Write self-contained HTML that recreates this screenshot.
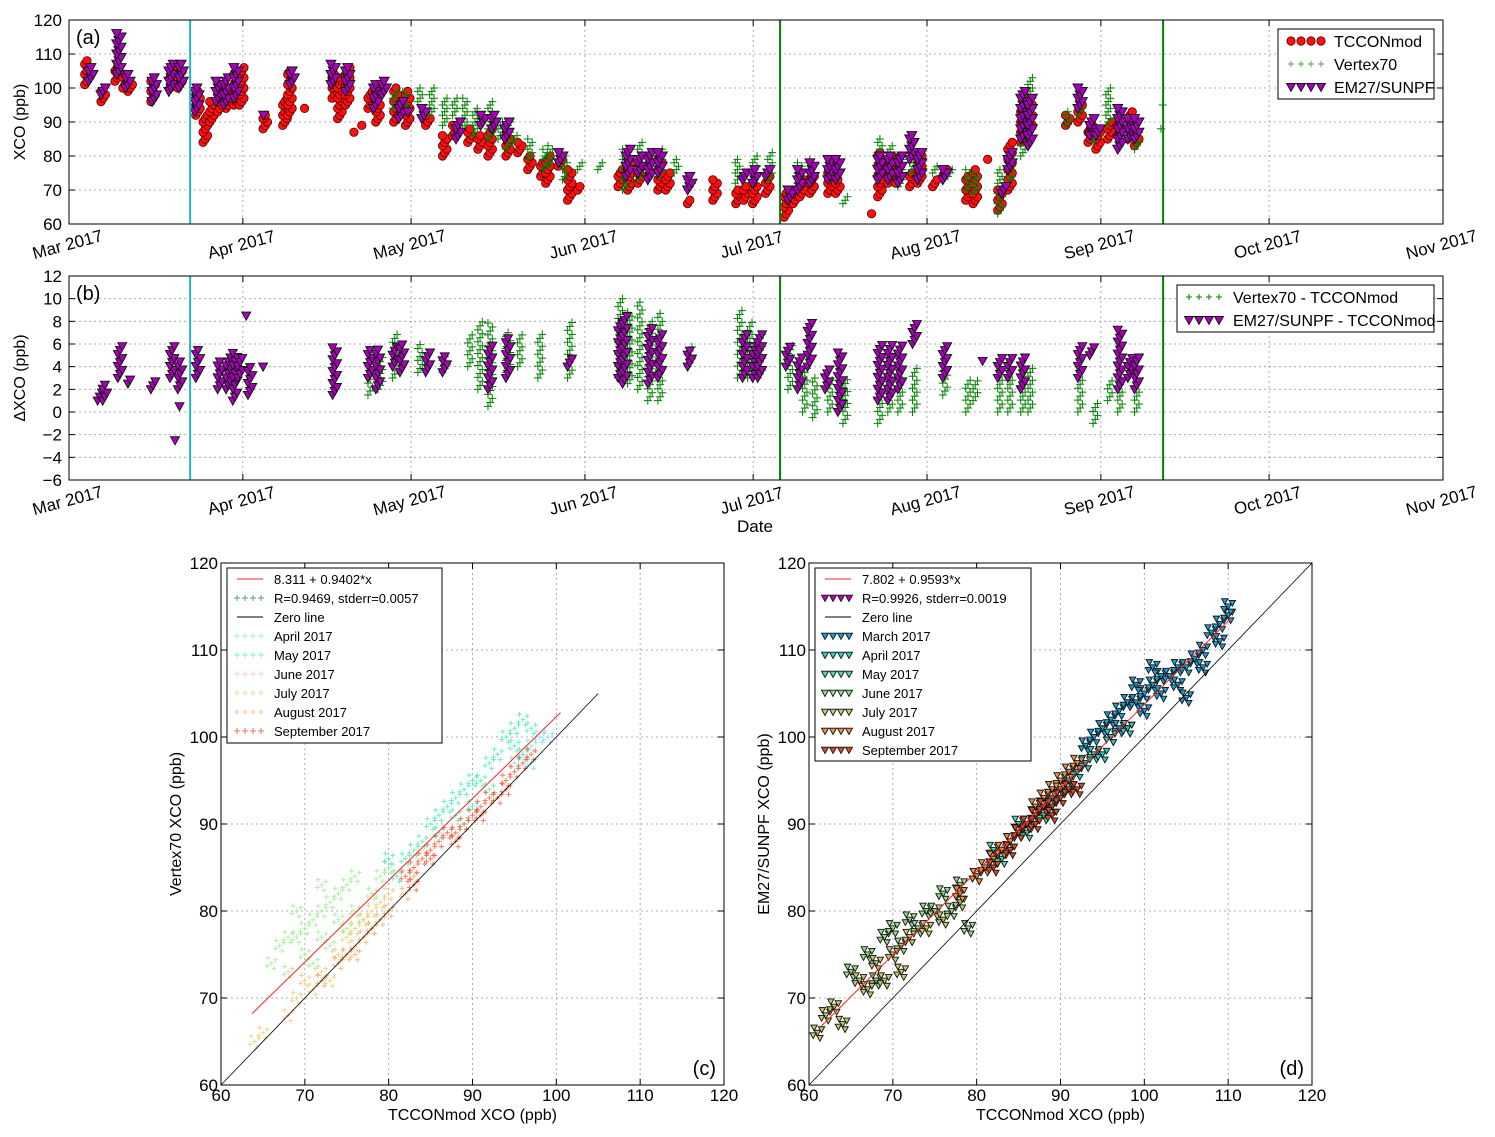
<!DOCTYPE html>
<html><head><meta charset="utf-8"><style>
body{margin:0;background:#fff}
svg{display:block;font-family:"Liberation Sans","DejaVu Sans",sans-serif}
</style></head><body>
<svg id="chart" width="1495" height="1137" viewBox="0 0 1495 1137" xmlns="http://www.w3.org/2000/svg"></svg>
<script>
// ---------- DATA ----------
const monthDays=[0,31,61,92,122,153,184,214,245];
const monthLabels=["Mar 2017","Apr 2017","May 2017","Jun 2017","Jul 2017","Aug 2017","Sep 2017","Oct 2017","Nov 2017"];
const cyanLineDays=[21.6];
const greenLineDays=[126.8,195.1];
const ticksA=[60,70,80,90,100,110,120];
const ticksB=[-6,-4,-2,0,2,4,6,8,10,12];
const ticksC=[60,70,80,90,100,110,120];
// panel a: clusters (day since Mar 1, low, high)
const tcconDay=[3.2,6.1,8.6,10.0,10.9,15.0,18.4,19.8,23.0,24.3,25.5,26.9,28.4,29.8,30.8,35.0,38.5,39.4,42.4,47.3,48.3,49.7,51.2,52.6,53.7,55.1,58.3,60.4,64.0,67.0,68.8,71.5,73.3,75.1,78.3,80.4,82.2,84.5,85.4,87.6,89.3,91.1,98.3,100.0,101.8,105.4,106.8,110.7,115.2,119.3,120.7,122.3,124.6,127.9,129.5,130.7,132.5,135.7,137.1,143.5,144.6,146.4,147.8,150.3,151.7,154.4,156.2,160.3,161.6,164.2,166.0,167.8,170.1,171.4,178.1,180.3,182.1,183.5,185.6,187.4,189.2,190.4];
const tcconLo=[101,96,102,100,99,96,100,100,92,84,90,93,94,95,95,88,89,92,94,97,91,95,87,89,94,90,90,89,89,80,86,84,82,80,80,81,76,74,72,77,67,70,71,70,72,70,70,66,67,66,67,66,69,62,66,68,69,69,69,63,68,72,72,71,72,71,74,67,66,79,64,70,84,87,89,90,84,82,85,86,85,83];
const tcconHi=[108,99,106,104,101,102,105,106,99,92,96,101,100,104,106,92,97,105,94,104,103,106,87,89,99,101,100,99,92,86,89,88,86,88,86,84,80,78,80,79,76,71,76,78,77,80,75,67,73,70,71,72,74,69,70,74,74,75,73,63,81,80,80,75,80,73,76,74,76,79,70,84,93,97,92,95,89,87,90,90,93,87];
const vertexDay=[58.1,59.9,62.6,64.7,67.0,68.8,70.6,72.4,75.1,76.9,78.3,79.5,82.2,84.9,85.8,88.4,91.1,94.7,99.1,101.8,105.4,108.3,110.7,119.2,122.3,125.0,130.3,132.1,135.7,138.4,144.6,146.4,148.2,150.3,151.7,154.4,157.1,160.3,161.6,166.0,167.8,170.1,171.4,178.1,180.3,183.0,185.3,187.4,190.4,195.1,195.4];
const vertexLo=[94,93,96,92,89,92,88,86,85,85,82,84,79,76,77,73,76,76,70,73,74,75,70,72,72,73,72,75,73,66,75,75,71,75,74,75,74,70,69,63,72,80,86,89,92,84,89,83,82,88,95];
const vertexHi=[99,99,100,100,97,97,97,94,96,90,90,86,85,82,83,80,78,78,82,84,82,79,73,79,80,81,78,79,78,68,85,83,80,82,80,77,76,76,75,76,80,93,103,93,97,87,100,92,88,88,95];
const em27Day=[3.9,6.1,8.9,10.5,15.2,18.2,20.0,22.8,26.6,28.0,29.8,35.1,39.8,47.1,49.7,54.7,56.2,59.2,60.8,63.3,69.4,73.8,75.8,78.1,87.7,99.7,101.8,103.6,105.4,110.7,120.5,122.3,124.6,128.6,130.3,132.5,135.7,137.1,144.6,146.4,148.2,150.3,151.7,156.2,166.7,167.8,170.1,171.4,180.3,182.4,183.5,187.4,189.2,190.4];
const em27Lo=[102,98,104,100,96,99,100,93,96,95,97,92,101,101,99,94,98,91,93,91,85,89,88,85,78,74,75,73,75,70,73,72,74,67,70,72,73,73,73,73,72,79,73,73,69,76,85,83,94,86,86,82,85,85];
const em27Hi=[106,100,116,104,103,107,107,100,102,103,106,92,105,107,106,101,102,96,93,94,90,92,92,90,81,82,80,81,81,74,75,76,76,70,76,78,79,79,80,80,80,86,81,76,71,81,99,97,100,91,88,94,91,91];
// panel b
const dEm27Day=[5.5,6.4,9.1,10.9,15.0,18.4,19.8,19.3,20.1,23.0,26.9,28.4,29.6,30.5,32.3,32.0,35.0,47.4,53.7,55.1,58.1,59.4,64.0,67.0,75.1,78.3,89.3,98.3,99.1,103.6,105.4,110.7,120.5,122.3,123.2,128.2,130.3,132.1,135.2,137.5,144.6,146.4,148.2,150.8,156.2,163.3,166.0,167.8,170.1,180.3,182.4,187.4,189.2,190.4];
const dEm27Lo=[1,1,3,2.5,2,3,2,-2.5,0.5,3,2,2,1,3,1.5,8.5,4,1.5,3,2,4,3.5,3.5,3.5,2,3,4,3,2.5,2.5,3,4,3,3,3,4,2,4,2,0,1,1,2,6,3,4.5,3,3,2,3,5,2,3,2];
const dEm27Hi=[2,2.5,6,3,3,6,4.5,-2.5,0.5,5.5,4.5,5,5.5,5,4,8.5,4,6,5.5,5.5,6,6,5.5,5,6,6.5,5,8,8.5,7.5,7,5.5,7,6,7,6,5,8,4,5.5,6,6,6,8,6,4.5,5,5,5,6,6,7.5,5,5];
const dVertexDay=[53.7,55.5,58.1,62.6,67.0,71.5,73.3,75.1,78.3,80.4,84.0,89.3,98.3,100.0,101.8,103.6,105.4,110.7,119.6,121.4,123.2,128.6,131.2,133.0,135.7,138.4,144.6,146.4,148.2,150.8,156.2,160.3,161.6,166.0,167.8,170.1,171.4,180.3,183.0,185.6,187.4,190.4];
const dVertexLo=[1.5,2,3,3.5,3.5,4,2,0.5,3.5,4,3,3,3,2.5,2,1,1,4,3,3,3,2,0,-0.5,0,-1,-1,0,0,0,1.5,0,1,0,0,0,0,0,-1,1,0,0];
const dVertexHi=[3,5,7,6,5,7,8,8,7,7,7,8,10,9,10,8,9,6,9,8,7,6,4,3,3,3,3,5,4,4,4,3,3,3,3,3,4,3,1,3,3,2];
// panel c (TCCONmod x, Vertex70 y) by month
const cAprX=[95,96,97,98,99,97], cAprY=[97,98,99,100,100,97];
const cMayX=[84,85,86,87,88,89,90,91,92,93,94,95,96,97,95,90,88,86,83,82,89,92,96,80,81];
const cMayY=[88,90,91,92,93,94,95,95,97,98,100,101,102,101,99,92,91,89,87,86,90,94,98,86,84];
const cJunX=[66,67,68,69,70,71,72,73,74,75,76,70,72,74,76,78,79,80,68,71,73,75,77,69,72];
const cJunY=[74,76,77,77,78,79,80,81,82,83,84,75,77,79,80,82,84,85,73,74,76,78,79,80,83];
const cJulX=[64,65,68,70,72,74,75,76,77,78,79,80,73,76,78,71,69];
const cJulY=[65,66,68,72,73,75,77,78,79,80,81,82,72,76,78,71,70];
const cAugX=[72,74,75,77,78,80,82,83,76,79];
const cAugY=[72,74,75,77,78,80,82,84,75,79];
const cSepX=[82,83,84,85,86,87,88,89,90,91,92,93,94,95,96,97,85,88,91,94,83];
const cSepY=[84,85,86,87,88,89,89,90,91,92,93,93,95,96,97,98,86,88,91,94,83];
const cFit=[8.311,0.9402], cFitRange=[63.7,100.5], cZeroRange=[60,105];
// panel d (TCCONmod x, EM27 y)
const dMarX=[93,94,95,96,97,98,99,100,101,102,103,104,105,106,107,108,109,110,110,109,100,98,96,102,104,105,107,99,101,97];
const dMarY=[99,100,101,102,103,104,104,105,106,107,107,108,108,109,110,112,113,114,115,111,103,101,100,105,106,104.5,108,106,108,101];
const dAprX=[86,88,90,92,94,96,98,93,91,89,87,95];
const dAprY=[90,92,94,96,98,100,101,97,95,93,91,98];
const dMayX=[82,84,86,88,85,83], dMayY=[87,88,89,91,90,86];
const dJunX=[65,67,69,70,72,74,76,78,80,71,73,75,77,79,68];
const dJunY=[73,75,77,78,79,80,82,83,84,76,78,80,80,78,72];
const dJulX=[61,62,63,64,66,68,70,72,74,76,78,69,71,67];
const dJulY=[66,68,69,67,72,74,75,77,78,79,81,72,73,71];
const dAugX=[78,80,82,84,86,88,90,87,85,83,81,89,91,92];
const dAugY=[82,84,86,88,90,93,95,92,89,87,85,94,96,97];
const dSepX=[82,84,85,86,87,88,89,90,91,92,87,89];
const dSepY=[85,87,89,90,91,92,92,93,94,94,90,91];
const dFit=[7.802,0.9593], dFitRange=[61.5,110.5], dZeroRange=[60,120];

// ---------- SCALES ----------
const xa=d=>69+d*5.608;
const ya=v=>224-(v-60)*3.4;
const yb=v=>276+(12-v)*11.333;
const xc=v=>221+(v-60)*8.383;
const yc=v=>1085-(v-60)*8.7;
const xd=v=>809+(v-60)*8.383;

const svg=document.getElementById('chart');
const NS='http://www.w3.org/2000/svg';
function mk(tag,attrs,parent){const e=document.createElementNS(NS,tag);for(const k in attrs)e.setAttribute(k,attrs[k]);(parent||svg).appendChild(e);return e;}
function txt(x,y,s,size,anchor,parent,rot){const t=mk('text',{x:x,y:y,'font-size':size,'text-anchor':anchor||'middle',fill:'#000'},parent);if(rot)t.setAttribute('transform','rotate('+rot+' '+x+' '+y+')');t.textContent=s;return t;}
function circ(g,x,y){mk('circle',{cx:x,cy:y,r:4.2,fill:'#ff1010',stroke:'#500','stroke-width':0.8},g);}
function tri(g,x,y,s,fill){s=s||5;mk('polygon',{points:(x-s)+','+(y-s*0.8)+' '+(x+s)+','+(y-s*0.8)+' '+x+','+(y+s),fill:fill||'#a800b8',stroke:'#111','stroke-width':0.9},g);}
function plus(g,x,y,s,col,op){mk('path',{d:'M'+(x-s)+' '+y+'h'+(2*s)+'M'+x+' '+(y-s)+'v'+(2*s),stroke:col,'stroke-width':1,opacity:op||1,fill:'none'},g);}

function frame(x0,y0,x1,y1,name){const r=mk('rect',{x:x0,y:y0,width:x1-x0,height:y1-y0,fill:'none',stroke:'#000','stroke-width':1});}
function grid(g,x0,y0,x1,y1,vx,hy){vx.forEach(x=>mk('line',{x1:x,y1:y0,x2:x,y2:y1,stroke:'#999','stroke-dasharray':'2,3','stroke-width':0.8},g));hy.forEach(y=>mk('line',{x1:x0,y1:y,x2:x1,y2:y,stroke:'#999','stroke-dasharray':'2,3','stroke-width':0.8},g));}
function ticks(g,x0,y0,x1,y1,vx,hy){vx.forEach(x=>{mk('line',{x1:x,y1:y1,x2:x,y2:y1-6,stroke:'#000'},g);mk('line',{x1:x,y1:y0,x2:x,y2:y0+6,stroke:'#000'},g);});hy.forEach(y=>{mk('line',{x1:x0,y1:y,x2:x0+6,y2:y,stroke:'#000'},g);mk('line',{x1:x1,y1:y,x2:x1-6,y2:y,stroke:'#000'},g);});}

// ---------- PANEL A & B ----------
function timePanel(pid,y0,y1,yS,tk,labelY,yTitle,cls){
  const g=mk('g',{});
  
  
  const vx=monthDays.map(xa), hy=tk.map(yS);
  grid(g,69,y0,1443,y1,vx,hy);
  ticks(g,69,y0,1443,y1,vx,hy);
  tk.forEach(v=>{const t=txt(62,yS(v)+6,String(v).replace('-','\u2212'),17,'end',g);});
  monthDays.forEach((d,i)=>{const t=txt(xa(d),labelY,monthLabels[i],17,'middle',g,-15);});
  const yt=txt(25,(y0+y1)/2,yTitle,16,'middle',g,-90);
  
  
  cls.forEach(c=>{
    const sg=mk('g',{},g);
    
    
    c.day.forEach((d,i)=>{let k=0;for(let v=c.lo[i];v<=c.hi[i]+1e-6;v+=c.step){const x=xa(d)+((k%3)-1)*2.2;c.draw(sg,x,yS(v));k++;}});
  });
  cyanLineDays.forEach(d=>{const l=mk('line',{x1:xa(d),y1:y0,x2:xa(d),y2:y1,stroke:'#20b8c0','stroke-width':2},g);});
  greenLineDays.forEach(d=>{const l=mk('line',{x1:xa(d),y1:y0,x2:xa(d),y2:y1,stroke:'#008000','stroke-width':2},g);});
}
timePanel('panel-a',20,224,ya,ticksA,250,'XCO (ppb)',[
 {name:'tccon-series',day:tcconDay,lo:tcconLo,hi:tcconHi,step:1.0,draw:circ},
 {name:'vertex70-series',day:vertexDay,lo:vertexLo,hi:vertexHi,step:1.0,draw:(g,x,y)=>plus(g,x,y,4,'#008000')},
 {name:'em27-series',day:em27Day,lo:em27Lo,hi:em27Hi,step:1.0,draw:(g,x,y)=>tri(g,x,y,5)}]);
frame(69,20,1443,224,'panel-a-frame');
txt(76,44,'(a)',20,'start');
timePanel('panel-b',276,480,yb,ticksB,506,'\u0394XCO (ppb)',[
 {name:'vertex70-diff-series',day:dVertexDay,lo:dVertexLo,hi:dVertexHi,step:0.35,draw:(g,x,y)=>plus(g,x,y,4,'#008000')},
 {name:'em27-diff-series',day:dEm27Day,lo:dEm27Lo,hi:dEm27Hi,step:0.35,draw:(g,x,y)=>tri(g,x,y,4.5)}]);
frame(69,276,1443,480,'panel-b-frame');
txt(76,300,'(b)',20,'start');
const dt=txt(755,532,'Date',17);



// legends a,b
function legBox(x0,y0,x1,y1,name){const g=mk('g',{});mk('rect',{x:x0,y:y0,width:x1-x0,height:y1-y0,fill:'#fff',stroke:'#000'},g);return g;}
let lg=legBox(1278,29,1434,99,'legend-a');
[[41,'TCCONmod',circ],[64,'Vertex70',(g,x,y)=>plus(g,x,y,3,'#008000',0.7)],[87,'EM27/SUNPF',(g,x,y)=>tri(g,x,y,4.5)]].forEach(r=>{for(let i=0;i<4;i++)r[2](lg,1291+i*10,r[0]);const t=txt(1334,r[0]+6,r[1],16,'start',lg);});
lg=legBox(1177,285,1434,332,'legend-b');
[[297,'Vertex70 - TCCONmod',(g,x,y)=>plus(g,x,y,3,'#008000')],[320,'EM27/SUNPF - TCCONmod',(g,x,y)=>tri(g,x,y,4.5)]].forEach(r=>{for(let i=0;i<4;i++)r[2](lg,1189+i*10,r[0]);const t=txt(1233,r[0]+6,r[1],16,'start',lg);});

// ---------- PANEL C & D ----------
const densify=[[0,0],[0.5,0.4],[-0.5,-0.3],[0.3,-0.6],[-0.4,0.6]];
function scatterPanel(pid,xS,x0,x1,groups,fit,fitR,zeroR,yTitle,tag,legendRows,legX1,legY1){
  const g=mk('g',{});
  
  
  const vx=ticksC.map(xS), hy=ticksC.map(yc);
  grid(g,x0,563,x1,1085,vx,hy);
  ticks(g,x0,563,x1,1085,vx,hy);
  ticksC.forEach(v=>{let t=txt(xS(v),1101,String(v),17,'middle',g);t=txt(x0-3,yc(v)+6,String(v),17,'end',g);});
  let t=txt((x0+x1)/2,1120,'TCCONmod XCO (ppb)',16,'middle',g);
  
  t=txt(x0-40,824,yTitle,16,'middle',g,-90);
  
  groups.forEach(gr=>{const sg=mk('g',{},g);
    gr.x.forEach((xv,i)=>densify.forEach(o=>gr.draw(sg,xS(xv+o[0]),yc(gr.y[i]+o[1]))));});
  const z=mk('line',{x1:xS(zeroR[0]),y1:yc(zeroR[0]),x2:xS(zeroR[1]),y2:yc(zeroR[1]),stroke:'#000','stroke-width':0.8},g);
  
  const f=mk('line',{x1:xS(fitR[0]),y1:yc(fit[0]+fit[1]*fitR[0]),x2:xS(fitR[1]),y2:yc(fit[0]+fit[1]*fitR[1]),stroke:'#ff2020','stroke-width':1},g);
  
  const lab=txt(x1-8,1075,tag,20,'end',g);
  
  const L=legBox(x0+6,568,legX1,legY1,pid+'-legend');
  legendRows.forEach((r,i)=>{const y=579+i*19;r.draw(L,x0+16,y);const tt=txt(x0+53,y+5,r.label,13,'start',L);});
  mk('rect',{x:x0,y:563,width:x1-x0,height:522,fill:'none',stroke:'#000'},g);
}
const pc=(col)=>(g,x,y)=>plus(g,x,y,2.5,col,0.75);
const cCols={apr:'#6fe0e8',may:'#40e8b0',jun:'#9ce890',jul:'#e8c870',aug:'#f4a060',sep:'#f05028'};
const legPlus=(col,op)=>(g,x,y)=>{for(let i=0;i<4;i++)plus(g,x+i*8,y,3,col,op);};
const legLine=(col)=>(g,x,y)=>mk('line',{x1:x,y1:y,x2:x+26,y2:y,stroke:col,'stroke-width':1},g);
scatterPanel('panel-c',xc,221,724,[
 {name:'vertex-jun',x:cJunX,y:cJunY,draw:pc(cCols.jun)},
 {name:'vertex-jul',x:cJulX,y:cJulY,draw:pc(cCols.jul)},
 {name:'vertex-aug',x:cAugX,y:cAugY,draw:pc(cCols.aug)},
 {name:'vertex-may',x:cMayX,y:cMayY,draw:pc(cCols.may)},
 {name:'vertex-apr',x:cAprX,y:cAprY,draw:pc(cCols.apr)},
 {name:'vertex-sep',x:cSepX,y:cSepY,draw:pc(cCols.sep)}],
 cFit,cFitRange,cZeroRange,'Vertex70 XCO (ppb)','(c)',[
 {label:cFit[0]+' + '+cFit[1]+'*x',draw:legLine('#ff2020')},
 {label:'R=0.9469, stderr=0.0057',draw:legPlus('#2a8a6a',0.8)},
 {label:'Zero line',draw:legLine('#000')},
 {label:'April 2017',draw:legPlus(cCols.apr,0.6)},
 {label:'May 2017',draw:legPlus(cCols.may,0.6)},
 {label:'June 2017',draw:legPlus('#f0b0b0',0.6)},
 {label:'July 2017',draw:legPlus(cCols.jul,0.6)},
 {label:'August 2017',draw:legPlus(cCols.aug,0.6)},
 {label:'September 2017',draw:legPlus(cCols.sep,0.8)}],442,743);
const dCols={mar:'#1aa0d8',apr:'#28d0c8',may:'#50d8a8',jun:'#90dc88',jul:'#c8c86c',aug:'#f09040',sep:'#e04a28'};
const pt=(col)=>(g,x,y)=>tri(g,x,y,3.2,col);
const legTri=(col)=>(g,x,y)=>{for(let i=0;i<4;i++)tri(g,x+i*8,y,3.5,col);};
scatterPanel('panel-d',xd,809,1312,[
 {name:'em27-mar',x:dMarX,y:dMarY,draw:pt(dCols.mar)},
 {name:'em27-apr',x:dAprX,y:dAprY,draw:pt(dCols.apr)},
 {name:'em27-may',x:dMayX,y:dMayY,draw:pt(dCols.may)},
 {name:'em27-jun',x:dJunX,y:dJunY,draw:pt(dCols.jun)},
 {name:'em27-jul',x:dJulX,y:dJulY,draw:pt(dCols.jul)},
 {name:'em27-aug',x:dAugX,y:dAugY,draw:pt(dCols.aug)},
 {name:'em27-sep',x:dSepX,y:dSepY,draw:pt(dCols.sep)}],
 dFit,dFitRange,dZeroRange,'EM27/SUNPF XCO (ppb)','(d)',[
 {label:dFit[0]+' + '+dFit[1]+'*x',draw:legLine('#ff2020')},
 {label:'R=0.9926, stderr=0.0019',draw:legTri('#c000c8')},
 {label:'Zero line',draw:legLine('#000')},
 {label:'March 2017',draw:legTri(dCols.mar)},
 {label:'April 2017',draw:legTri(dCols.apr)},
 {label:'May 2017',draw:legTri(dCols.may)},
 {label:'June 2017',draw:legTri(dCols.jun)},
 {label:'July 2017',draw:legTri(dCols.jul)},
 {label:'August 2017',draw:legTri(dCols.aug)},
 {label:'September 2017',draw:legTri(dCols.sep)}],1031,761);
</script>
</body></html>
